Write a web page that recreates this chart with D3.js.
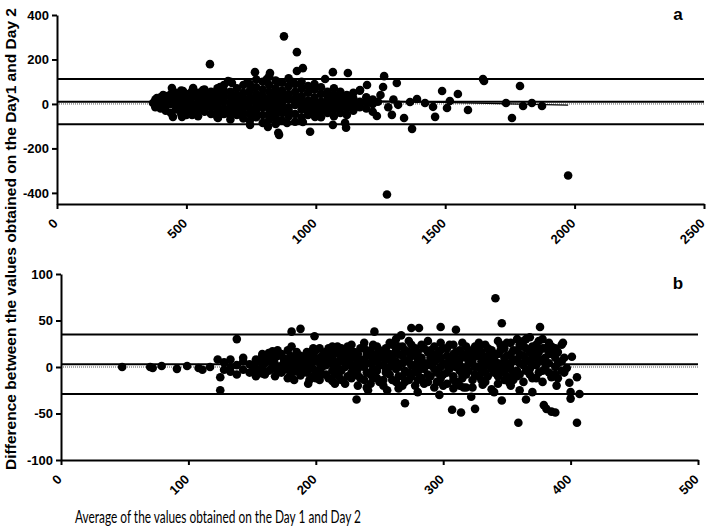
<!DOCTYPE html>
<html>
<head>
<meta charset="utf-8">
<script src="https://d3js.org/d3.v7.min.js"></script>
<style>
  body { margin: 0; background: #fff; }
  svg { display: block; }
  .tick-lab { font-family: "Liberation Sans Narrow", "Liberation Sans", Arial, sans-serif; font-weight: bold; font-size: 13px; }
</style>
</head>
<body>
<svg id="chart" width="709" height="527"></svg>
<script>
// panel a: x ticks, y ticks, limits of agreement (upper, mean, lower)
var topXTicks = [0, 500, 1000, 1500, 2000, 2500];
var topYTicks = [400, 200, 0, -200, -400];
var topLimits = [112, 10, -91];
var topTrend = [[1000, 19], [1975, -5]];

// dense part of panel a, grouped by average value: [average, [differences]]
var topCore = [
  [380, [0, 20, -15]], [400, [30, -20, 10]], [420, [-30, 35, 5, -10]],
  [440, [15, -40, 45, 0]], [460, [-25, 25, 50, -5]], [480, [10, -45, 35, -20, 60]],
  [500, [-30, 20, 45, 0, -50]], [520, [35, -15, 5, -40, 55]], [545, [-25, 25, 50, -5, -55]],
  [570, [15, -35, 40, 0, 65, -20]], [595, [-45, 30, 5, -15, 55]], [620, [20, -30, 45, -5, 70, -60]],
  [645, [-20, 35, 10, -45, 60, 85]], [670, [5, -35, 30, 55, -15, -70, 100]], [695, [40, -25, 15, -50, 70, -5]],
  [720, [-10, 25, 50, -40, 85, -65, 5]], [745, [30, -20, 60, 10, -45, 90, -75]], [770, [-5, 45, -30, 20, 75, -60, 110]],
  [795, [15, -50, 35, -15, 65, 100, -85]], [820, [-25, 25, 55, 0, -45, 85, -70, 125]], [845, [40, -10, 15, -60, 70, -35, 105, -90]],
  [870, [5, -40, 30, 60, -20, 95, -75, 55]], [895, [-15, 45, 20, -55, 80, -30, 115]], [920, [25, -5, 55, -45, 90, -80, 10]],
  [945, [-25, 35, 5, 70, -60, 100]], [970, [15, -35, 50, -10, 80, -50]], [995, [-20, 30, 5, 65, -45, 90]],
  [1020, [10, -30, 45, -5, 75, -60]], [1045, [-15, 25, 55, -40, 5]], [1070, [20, -25, 40, 0, -55, 70]],
  [1095, [-10, 30, 10, -40, 55]], [1120, [15, -20, 40, 0, -50]], [1145, [-5, 25, 50, -30]],
  [1170, [10, -15, 60]], [1195, [-20, 30, 5]], [1220, [0, 20, -35]]
];
// edge and outlying points of panel a: [average, difference]
var topScatter = [
  [371, 4], [386, 27], [398, -13], [410, 40], [444, 72], [487, 58], [526, 72], [564, 63], [630, 76],
  [661, 103], [676, 94], [591, 179], [765, 143], [823, 139], [811, 112], [877, 304], [927, 233],
  [927, 148], [950, 161], [1066, 143], [1036, 112], [912, 98], [854, 98], [734, 94], [1124, 139],
  [448, -58], [483, -58], [522, -49], [622, -63], [746, -94], [815, -103], [858, -139], [855, -130],
  [978, -125], [889, -85], [842, -58], [950, -81], [997, -58], [1066, -94], [1113, -85], [1117, -107],
  [668, -49], [1264, 125], [1313, 94], [1198, 85], [1260, 76], [1171, 63], [1488, 58], [1549, 45],
  [1646, 112], [1650, 103], [1789, 81], [1364, 9], [1391, 22], [1422, 4], [1453, -13], [1507, -18],
  [1518, 13], [1588, -27], [1461, -58], [1341, -63], [1294, -49], [1236, -54], [1372, -112],
  [1318, -4], [1735, 4], [1758, -63], [1801, -9], [1835, 4], [1874, -9], [1975, -322], [1275, -407],
  [1240, 10], [1280, -15], [1250, 40], [1300, 20]
];

// panel b
var botXTicks = [0, 100, 200, 300, 400, 500];
var botYTicks = [100, 50, 0, -50, -100];
var botLimits = [35, 3, -29];

var botCore = [
  [128, [5, -3]], [133, [-5, 8, 0]], [138, [2, -8]], [143, [6, -3, 10]], [148, [-6, 3]],
  [153, [8, -2, -10]], [158, [0, 12, -7]], [163, [-4, 6, 15]], [168, [3, -10, 10]], [173, [-6, 14, 1]],
  [178, [7, -12, -2, 18]], [183, [-5, 10, 2, -14]], [188, [12, -3, 5, -9]], [193, [0, 16, -6, 8]],
  [198, [-10, 6, 14, -2]], [203, [4, -14, 10, 20, -5]], [208, [-8, 2, 16, 9]], [213, [10, -4, -15, 22, 3]],
  [218, [-2, 14, 6, -10]], [223, [5, -18, 18, 0, 12]], [228, [-6, 10, -12, 24, 2]], [233, [14, -2, 6, -20, -9]],
  [238, [0, 20, -14, 8, 26]], [243, [-8, 12, 4, -18, 18]], [248, [6, -4, 22, -12, 14]], [253, [-14, 2, 16, 10, -20]],
  [258, [8, -8, 26, 0, 14]], [263, [-2, 18, -16, 6, 30]], [268, [12, -10, 4, 22, -20]], [273, [-6, 8, 28, -14, 16]],
  [278, [2, -20, 14, 20, -4]], [283, [10, -12, 24, 0, 6]], [288, [-8, 16, 4, -16, 28]], [293, [6, -2, 22, -22, 12]],
  [298, [-12, 10, 18, 0, 26]], [303, [2, -18, 12, -6, 20]], [308, [14, -10, 4, 24, -14]], [313, [-4, 8, 18, -20, 2]],
  [318, [10, -8, 22, -2, 14]], [323, [-14, 4, 16, 8, -22]], [328, [0, 20, -10, 12, 26]], [333, [-6, 8, 24, -16, 2]],
  [338, [12, -2, 18, -24, 6]], [343, [-10, 4, 28, -18, 14]], [348, [6, 20, -6, 10, -14]], [353, [-2, 14, 26, -20, 4]],
  [358, [8, -10, 18, 30, -4]], [363, [2, 22, -16, 12, 28]], [368, [-8, 16, 6, 32, -2]], [373, [10, -12, 24, 2, 18]],
  [378, [-4, 20, 8, -16, 30]], [383, [14, -6, 26, 4]], [388, [0, 20, -8, 10]], [393, [6, 24, -4]]
];
var botCore2 = [
  [150, [2, -5]], [155, [-3, 6]], [160, [4, -8, 9]], [165, [-2, 10]], [170, [0, -6, 12]], [175, [5, -3, 9]],
  [180, [-8, 3, 12]], [185, [6, -2, 16]], [190, [-6, 9, 2]], [195, [3, -14, 11]], [200, [-4, 8, 18, -12]],
  [205, [12, 0, -8, 6]], [210, [-12, 5, 13, 20]], [215, [2, -8, 16, -18]], [220, [8, -4, 20, -14]],
  [225, [-10, 4, 14, 22]], [230, [0, 16, -6, 10]], [235, [-12, 8, 20, 2]], [240, [4, -6, 14, -22]],
  [245, [-2, 24, 8, -12]], [250, [12, -16, 2, 18]], [255, [-6, 8, 20, -2]], [260, [4, -14, 12, 24]],
  [265, [-10, 0, 14, 22]], [270, [6, -4, 18, -16]], [275, [-10, 2, 12, 24]], [280, [8, -6, 16, -14]],
  [285, [-2, 20, -18, 4]], [290, [10, -10, 2, 18]], [295, [-6, 8, 14, -16]], [300, [4, -8, 20, -20]],
  [305, [-2, 10, 24, 6]], [310, [8, -16, 16, 0]], [315, [-8, 12, 26, -12]], [320, [4, -4, 18, 8]],
  [325, [-8, 12, 0, 22]], [330, [6, -14, 16, -4]], [335, [-10, 12, 20, 2]], [340, [8, -6, 14, 0]],
  [345, [-4, 18, 2, 24]], [350, [12, -10, 0, 26]], [355, [-8, 8, 18, -14]], [360, [4, 14, 24, -8]],
  [365, [-4, 8, 20, 30]], [370, [2, -12, 12, 22]], [375, [-6, 6, 28, 16]], [380, [10, -2, 20, 4]],
  [385, [-8, 14, 22]], [390, [4, -12, 16]], [395, [-6, 10]]
];
var botScatter = [
  [48, 0], [70, 0], [72, -1], [79, 1], [91, -2], [99, 1], [108, -1], [111, -3], [117, 0], [123, 8],
  [125, -11], [125, -25], [138, 30], [181, 38], [188, 41], [199, 33], [181, 22], [194, -18], [166, 17],
  [170, 18], [158, 14], [198, 20], [217, 22], [226, 18], [232, -35], [341, 74], [346, 47], [376, 43],
  [275, 42], [281, 42], [298, 43], [310, 40], [246, 38], [267, 34], [270, -39], [307, -46], [314, -49],
  [325, -45], [346, -36], [359, -60], [365, -35], [379, -41], [381, -45], [385, -48], [388, -49],
  [405, -60], [407, -29], [400, -34], [400, -27], [405, -11], [399, -17], [397, -1], [401, 11],
  [394, 26], [389, -20], [385, -11], [370, -27], [322, -32], [297, -30], [308, -23], [316, -22],
  [318, -22], [331, -19], [340, -27], [352, -17], [360, -25], [241, -25], [256, -25], [265, -23], [280, -27]
];

function expand(cores, scatter) {
  var pts = [];
  cores.forEach(function (core) {
    core.forEach(function (c) {
      c[1].forEach(function (d) { pts.push([c[0], d]); });
    });
  });
  return pts.concat(scatter);
}

var svg = d3.select("#chart");
svg.append("rect").attr("width", 709).attr("height", 527).attr("fill", "#fff");

function panel(cfg) {
  var x = d3.scaleLinear().domain(cfg.xDomain).range(cfg.xRange);
  var y = d3.scaleLinear().domain(cfg.yDomain).range(cfg.yRange);
  var g = svg.append("g");

  // zero line (dotted)
  g.append("line")
    .attr("x1", x(cfg.xDomain[0])).attr("x2", x(cfg.xDomain[1]))
    .attr("y1", y(0)).attr("y2", y(0))
    .attr("stroke", "#555").attr("stroke-width", 1).attr("stroke-dasharray", "1,1");

  // limits of agreement
  g.selectAll(".lim").data(cfg.limits).enter().append("line")
    .attr("x1", x(cfg.xDomain[0])).attr("x2", x(cfg.xDomain[1]))
    .attr("y1", function (d) { return y(d); }).attr("y2", function (d) { return y(d); })
    .attr("stroke", "#000").attr("stroke-width", 2);

  if (cfg.trend) {
    g.append("path")
      .attr("d", d3.line().x(function (d) { return x(d[0]); }).y(function (d) { return y(d[1]); })(cfg.trend))
      .attr("stroke", "#000").attr("stroke-width", 1.2).attr("fill", "none");
  }

  g.selectAll(".dot").data(cfg.points).enter().append("circle")
    .attr("cx", function (d) { return x(d[0]); })
    .attr("cy", function (d) { return y(d[1]); })
    .attr("r", 4.3).attr("fill", "#000");

  // axes
  var xa = g.append("g").attr("transform", "translate(0," + cfg.yRange[0] + ")")
    .call(d3.axisBottom(x).tickValues(cfg.xTicks).tickSize(5).tickSizeOuter(0).tickFormat(function (d) { return d; }));
  xa.select(".domain").attr("stroke-width", 2);
  xa.selectAll(".tick line").attr("stroke-width", 2);
  xa.selectAll(".tick text")
    .attr("class", "tick-lab")
    .attr("text-anchor", "end")
    .attr("x", 0).attr("y", 0).attr("dy", "0.35em")
    .attr("transform", "translate(-2,17) rotate(-45)");

  var ya = g.append("g").attr("transform", "translate(" + cfg.xRange[0] + ",0)")
    .call(d3.axisLeft(y).tickValues(cfg.yTicks).tickSize(5).tickSizeOuter(0).tickFormat(function (d) { return d; }));
  ya.select(".domain").attr("stroke-width", 2);
  ya.selectAll(".tick line").attr("stroke-width", 2);
  ya.selectAll(".tick text").attr("class", "tick-lab").attr("x", -8);

  svg.selectAll(".tick-lab").attr("fill", "#000");

  svg.append("text")
    .attr("x", cfg.letterPos[0]).attr("y", cfg.letterPos[1])
    .attr("text-anchor", "middle")
    .attr("font-family", "Liberation Sans, Arial, sans-serif")
    .attr("font-weight", "bold").attr("font-size", 17)
    .text(cfg.letter);
}

panel({
  xDomain: [0, 2500], xRange: [57, 704],
  yDomain: [-450, 400], yRange: [204, 15],
  xTicks: topXTicks, yTicks: topYTicks, limits: topLimits, trend: topTrend,
  points: expand([topCore], topScatter), letter: "a", letterPos: [678, 20]
});

panel({
  xDomain: [0, 500], xRange: [61, 698],
  yDomain: [-100, 100], yRange: [460, 274],
  xTicks: botXTicks, yTicks: botYTicks, limits: botLimits, trend: null,
  points: expand([botCore, botCore2], botScatter), letter: "b", letterPos: [678, 289]
});

// axis titles
svg.append("text")
  .attr("transform", "translate(16,239) rotate(-90)")
  .attr("text-anchor", "middle")
  .attr("font-family", "Liberation Sans, Arial, sans-serif")
  .attr("font-weight", "bold").attr("font-size", 14.5)
  .attr("textLength", 462).attr("lengthAdjust", "spacingAndGlyphs")
  .text("Difference between the values obtained on the Day1 and Day 2");

svg.append("text")
  .attr("x", 75).attr("y", 523)
  .attr("font-family", "Lato, Open Sans, sans-serif")
  .attr("font-size", 16.5)
  .attr("textLength", 286).attr("lengthAdjust", "spacingAndGlyphs")
  .text("Average of the values obtained on the Day 1 and Day 2");
</script>
</body>
</html>
